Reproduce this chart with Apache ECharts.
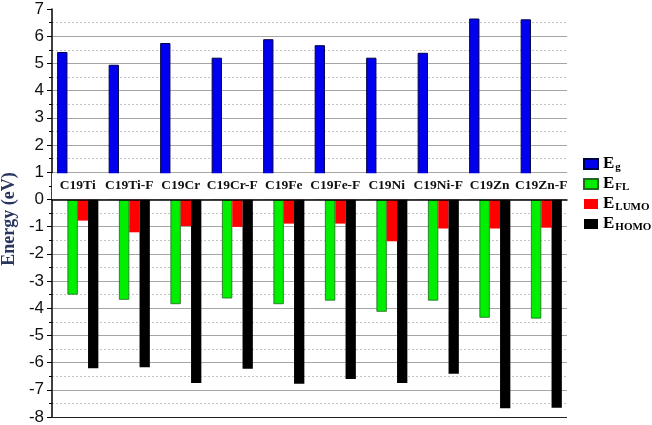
<!DOCTYPE html>
<html>
<head>
<meta charset="utf-8">
<script src="https://cdn.jsdelivr.net/npm/echarts@6/dist/echarts.min.js"></script>
<style>
  html, body { margin: 0; padding: 0; background: #fff; }
  #main { width: 652px; height: 425px; }
</style>
</head>
<body>
<div id="main"></div>
<script>
const categories = ['C19Ti', 'C19Ti-F', 'C19Cr', 'C19Cr-F', 'C19Fe', 'C19Fe-F', 'C19Ni', 'C19Ni-F', 'C19Zn', 'C19Zn-F'];
const eg = [5.42, 4.95, 5.75, 5.21, 5.89, 5.67, 5.21, 5.39, 6.65, 6.62];
const efl = [-3.50, -3.69, -3.85, -3.64, -3.85, -3.72, -4.13, -3.72, -4.35, -4.38];
const elumo = [-0.78, -1.21, -0.98, -1.01, -0.89, -0.89, -1.54, -1.07, -1.07, -1.04];
const ehomo = [-6.21, -6.17, -6.75, -6.23, -6.78, -6.60, -6.75, -6.41, -7.68, -7.66];
const legendNames = ['Eg', 'EFL', 'ELUMO', 'EHOMO'];
const legendSubs = { Eg: 'g', EFL: 'FL', ELUMO: 'LUMO', EHOMO: 'HOMO' };

const chart = echarts.init(document.getElementById('main'));

// white band between 0 and 1 where the category names sit
const labelBand = [0, 0.96];
const yMin = -8;
const gridTop = 9;

const option = {
  animation: false,
  grid: { left: 52, right: 85, top: gridTop, bottom: 8, containLabel: false, outerBoundsMode: 'none' },
  legend: {
    data: legendNames,
    orient: 'vertical',
    left: 578,
    top: 150,
    icon: 'rect',
    itemWidth: 14,
    itemHeight: 10,
    itemGap: 2,
    formatter: name => '{m|E}{s|' + legendSubs[name] + '}',
    textStyle: {
      rich: {
        m: { fontFamily: 'Liberation Serif', fontWeight: 'bold', fontSize: 17, color: '#000', lineHeight: 18 },
        s: { fontFamily: 'Liberation Serif', fontWeight: 'bold', fontSize: 11, color: '#000', lineHeight: 18, verticalAlign: 'bottom', padding: [7, 0, 0, 1] }
      }
    }
  },
  xAxis: [
    {
      // the zero line
      type: 'category',
      data: categories,
      z: 10,
      axisLine: { onZero: true, lineStyle: { color: '#000', width: 1.5 } },
      axisTick: { show: false },
      axisLabel: { show: false },
      splitLine: { show: false }
    },
    {
      // category names, sitting just above zero
      type: 'category',
      data: categories,
      position: 'top',
      offset: 0,
      z: 10,
      axisLine: { show: false, onZero: false },
      axisTick: { show: false },
      axisLabel: {
        margin: 7,
        interval: 0,
        fontFamily: 'Liberation Serif',
        fontWeight: 'bold',
        fontSize: 13.5,
        color: '#111'
      },
      splitLine: { show: false }
    }
  ],
  yAxis: {
    type: 'value',
    min: yMin,
    max: 7,
    interval: 1,
    name: 'Energy (eV)',
    nameLocation: 'middle',
    nameRotate: 90,
    nameGap: 27,
    nameTextStyle: {
      fontFamily: 'Liberation Serif',
      fontWeight: 'bold',
      fontSize: 18,
      color: '#2a3560',
      padding: [0, 12, 0, 0]
    },
    axisLine: { show: true, lineStyle: { color: '#000', width: 1.5 } },
    axisTick: { show: true, length: 5, lineStyle: { color: '#000' } },
    minorTick: { show: true, splitNumber: 2, length: 3, lineStyle: { color: '#000' } },
    axisLabel: {
      margin: 8,
      fontFamily: 'Liberation Sans',
      fontSize: 17,
      color: '#111'
    },
    splitLine: {
      show: true,
      showMaxLine: false,
      showMinLine: false,
      lineStyle: { color: '#a6a6a6', width: 1.2 }
    },
    minorSplitLine: {
      show: true,
      lineStyle: { color: '#c4c4c4', type: [2, 2], width: 1 }
    }
  },
  series: [
    {
      name: 'Eg', type: 'bar', data: eg,
      barGap: '0%', barCategoryGap: '20%',
      itemStyle: { color: '#0000ee', borderColor: '#00004a', borderWidth: 1 }
    },
    {
      name: 'EFL', type: 'bar', data: efl,
      barGap: '0%', barCategoryGap: '20%',
      itemStyle: { color: '#00ee00', borderColor: '#1e6a1e', borderWidth: 0.8 }
    },
    {
      name: 'ELUMO', type: 'bar', data: elumo,
      barGap: '0%', barCategoryGap: '20%',
      itemStyle: { color: '#ff0000' }
    },
    {
      name: 'EHOMO', type: 'bar', data: ehomo,
      barGap: '0%', barCategoryGap: '20%',
      itemStyle: { color: '#000000' }
    },
    {
      name: 'band', type: 'line', data: [], z: 5,
      markArea: {
        silent: true,
        z: 5,
        itemStyle: { color: '#ffffff' },
        data: [[{ yAxis: labelBand[0] }, { yAxis: labelBand[1] }]]
      },
      // bottom frame line
      markLine: {
        silent: true,
        symbol: 'none',
        label: { show: false },
        lineStyle: { color: '#222', type: 'solid', width: 1.2 },
        data: [{ yAxis: yMin }]
      }
    }
  ]
};

chart.setOption(option);

// move the name axis down onto the zero line, using the y scale
const zeroY = chart.convertToPixel({ yAxisIndex: 0 }, 0);
chart.setOption({ xAxis: [{}, { offset: -(zeroY - gridTop) }] });
</script>
</body>
</html>
